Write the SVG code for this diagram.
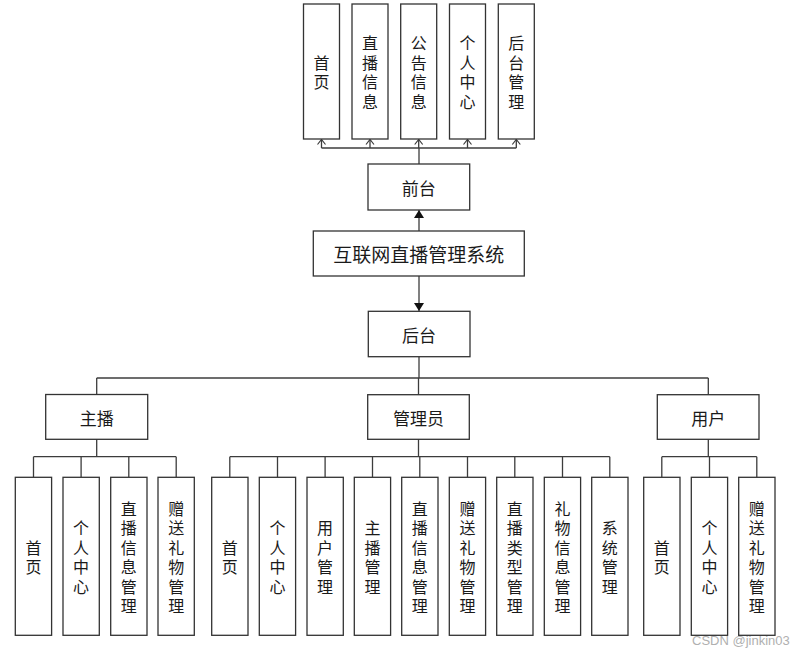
<svg xmlns="http://www.w3.org/2000/svg" width="806" height="657" viewBox="0 0 806 657">
<style>
.box{fill:#fff;stroke:#333;stroke-width:1.3}
.t{font-family:"Noto Sans CJK SC","Liberation Sans",sans-serif;fill:#1a1a1a;text-anchor:middle;dominant-baseline:central}
.s{font-size:16px}
.m{font-size:17px}
.l{font-size:19px}
.c{fill:none;stroke:#3c3c3c;stroke-width:1.3}
.wm{font-family:"Liberation Sans",Arial,sans-serif;font-size:13px;fill:#b0b0b0}
</style>
<defs>
<marker id="fa" markerUnits="userSpaceOnUse" markerWidth="8" markerHeight="10" viewBox="0 0 8 10" refX="8" refY="5" orient="auto">
<path d="M0,0 L8,5 L0,10 z" fill="#111"/>
</marker>
<marker id="oa" markerUnits="userSpaceOnUse" markerWidth="8" markerHeight="10" viewBox="-1 -1 8 10" refX="5" refY="4" orient="auto" overflow="visible">
<path d="M0,0 L5,4 L0,8" fill="none" stroke="#3c3c3c" stroke-width="1.2"/>
</marker>
</defs>

<g id="connectors">
<path class="c" d="M419,164 V148"/>
<path class="c" d="M321.5,148 H516.3"/>
<path class="c" d="M321.5,148 V139.5" marker-end="url(#oa)"/>
<path class="c" d="M370,148 V139.5" marker-end="url(#oa)"/>
<path class="c" d="M418.7,148 V139.5" marker-end="url(#oa)"/>
<path class="c" d="M467.5,148 V139.5" marker-end="url(#oa)"/>
<path class="c" d="M516.3,148 V139.5" marker-end="url(#oa)"/>
<path class="c" d="M419,231 V210" marker-end="url(#fa)"/>
<path class="c" d="M419,276 V311" marker-end="url(#fa)"/>
<path class="c" d="M419,357 V378"/>
<path class="c" d="M96.7,378 H708.3"/>
<path class="c" d="M96.7,378 V394.5"/>
<path class="c" d="M418.5,378 V394.7"/>
<path class="c" d="M708.3,378 V394.7"/>
<path class="c" d="M96.7,439.3 V456.7 M33.5,456.7 H176.2 M33.5,456.7 V477.3 M81.1,456.7 V477.3 M128.8,456.7 V477.3 M176.2,456.7 V477.3"/>
<path class="c" d="M418.5,439.3 V456.7 M229.8,456.7 H609.8 M229.8,456.7 V477.3 M277.5,456.7 V477.3 M325.1,456.7 V477.3 M372.5,456.7 V477.3 M419.8,456.7 V477.3 M467.5,456.7 V477.3 M514.8,456.7 V477.3 M562.5,456.7 V477.3 M609.8,456.7 V477.3"/>
<path class="c" d="M708.3,439.3 V456.7 M661.8,456.7 H756.8 M661.8,456.7 V477.3 M709.5,456.7 V477.3 M756.8,456.7 V477.3"/>
</g>

<g id="n_home_top"><rect class="box" x="303.5" y="4" width="36" height="135"/><text class="t s" x="321.5"><tspan x="321.5" y="61.75">首</tspan><tspan x="321.5" y="81.25">页</tspan></text></g>
<g id="n_live_top"><rect class="box" x="352" y="4" width="36" height="135"/><text class="t s"><tspan x="370" y="42.25">直</tspan><tspan x="370" y="61.75">播</tspan><tspan x="370" y="81.25">信</tspan><tspan x="370" y="100.75">息</tspan></text></g>
<g id="n_notice_top"><rect class="box" x="400.7" y="4" width="36" height="135"/><text class="t s"><tspan x="418.7" y="42.25">公</tspan><tspan x="418.7" y="61.75">告</tspan><tspan x="418.7" y="81.25">信</tspan><tspan x="418.7" y="100.75">息</tspan></text></g>
<g id="n_personal_top"><rect class="box" x="449.5" y="4" width="36" height="135"/><text class="t s"><tspan x="467.5" y="42.25">个</tspan><tspan x="467.5" y="61.75">人</tspan><tspan x="467.5" y="81.25">中</tspan><tspan x="467.5" y="100.75">心</tspan></text></g>
<g id="n_admin_top"><rect class="box" x="498.3" y="4" width="36" height="135"/><text class="t s"><tspan x="516.3" y="42.25">后</tspan><tspan x="516.3" y="61.75">台</tspan><tspan x="516.3" y="81.25">管</tspan><tspan x="516.3" y="100.75">理</tspan></text></g>

<g id="n_front"><rect class="box" x="368" y="164" width="101.7" height="46"/><text class="t m" x="418.8" y="187">前台</text></g>
<g id="n_system"><rect class="box" x="313.3" y="231" width="211" height="45"/><text class="t l" x="418.8" y="253.5">互联网直播管理系统</text></g>
<g id="n_back"><rect class="box" x="368.3" y="311.3" width="101.7" height="45.4"/><text class="t m" x="419.1" y="334">后台</text></g>

<g id="n_anchor"><rect class="box" x="45.7" y="394.5" width="102" height="44.8"/><text class="t m" x="96.7" y="417">主播</text></g>
<g id="n_manager"><rect class="box" x="367.7" y="394.7" width="101.6" height="44.6"/><text class="t m" x="418.5" y="417">管理员</text></g>
<g id="n_user"><rect class="box" x="657.3" y="394.7" width="101.7" height="44.6"/><text class="t m" x="708.2" y="417">用户</text></g>

<g id="n_a_home"><rect class="box" x="15.3" y="477.3" width="36.3" height="158"/><text class="t s"><tspan x="33.5" y="546.55">首</tspan><tspan x="33.5" y="566.05">页</tspan></text></g>
<g id="n_a_personal"><rect class="box" x="63" y="477.3" width="36.3" height="158"/><text class="t s"><tspan x="81.1" y="527.05">个</tspan><tspan x="81.1" y="546.55">人</tspan><tspan x="81.1" y="566.05">中</tspan><tspan x="81.1" y="585.55">心</tspan></text></g>
<g id="n_a_live"><rect class="box" x="110.7" y="477.3" width="36.3" height="158"/><text class="t s"><tspan x="128.8" y="507.55">直</tspan><tspan x="128.8" y="527.05">播</tspan><tspan x="128.8" y="546.55">信</tspan><tspan x="128.8" y="566.05">息</tspan><tspan x="128.8" y="585.55">管</tspan><tspan x="128.8" y="605.05">理</tspan></text></g>
<g id="n_a_gift"><rect class="box" x="158" y="477.3" width="36.3" height="158"/><text class="t s"><tspan x="176.2" y="507.55">赠</tspan><tspan x="176.2" y="527.05">送</tspan><tspan x="176.2" y="546.55">礼</tspan><tspan x="176.2" y="566.05">物</tspan><tspan x="176.2" y="585.55">管</tspan><tspan x="176.2" y="605.05">理</tspan></text></g>

<g id="n_m_home"><rect class="box" x="211.7" y="477.3" width="36.3" height="158"/><text class="t s"><tspan x="229.8" y="546.55">首</tspan><tspan x="229.8" y="566.05">页</tspan></text></g>
<g id="n_m_personal"><rect class="box" x="259.3" y="477.3" width="36.3" height="158"/><text class="t s"><tspan x="277.5" y="527.05">个</tspan><tspan x="277.5" y="546.55">人</tspan><tspan x="277.5" y="566.05">中</tspan><tspan x="277.5" y="585.55">心</tspan></text></g>
<g id="n_m_user"><rect class="box" x="307" y="477.3" width="36.3" height="158"/><text class="t s"><tspan x="325.1" y="527.05">用</tspan><tspan x="325.1" y="546.55">户</tspan><tspan x="325.1" y="566.05">管</tspan><tspan x="325.1" y="585.55">理</tspan></text></g>
<g id="n_m_anchor"><rect class="box" x="354.3" y="477.3" width="36.3" height="158"/><text class="t s"><tspan x="372.5" y="527.05">主</tspan><tspan x="372.5" y="546.55">播</tspan><tspan x="372.5" y="566.05">管</tspan><tspan x="372.5" y="585.55">理</tspan></text></g>
<g id="n_m_live"><rect class="box" x="401.7" y="477.3" width="36.3" height="158"/><text class="t s"><tspan x="419.8" y="507.55">直</tspan><tspan x="419.8" y="527.05">播</tspan><tspan x="419.8" y="546.55">信</tspan><tspan x="419.8" y="566.05">息</tspan><tspan x="419.8" y="585.55">管</tspan><tspan x="419.8" y="605.05">理</tspan></text></g>
<g id="n_m_gift"><rect class="box" x="449.3" y="477.3" width="36.3" height="158"/><text class="t s"><tspan x="467.5" y="507.55">赠</tspan><tspan x="467.5" y="527.05">送</tspan><tspan x="467.5" y="546.55">礼</tspan><tspan x="467.5" y="566.05">物</tspan><tspan x="467.5" y="585.55">管</tspan><tspan x="467.5" y="605.05">理</tspan></text></g>
<g id="n_m_type"><rect class="box" x="496.7" y="477.3" width="36.3" height="158"/><text class="t s"><tspan x="514.8" y="507.55">直</tspan><tspan x="514.8" y="527.05">播</tspan><tspan x="514.8" y="546.55">类</tspan><tspan x="514.8" y="566.05">型</tspan><tspan x="514.8" y="585.55">管</tspan><tspan x="514.8" y="605.05">理</tspan></text></g>
<g id="n_m_giftinfo"><rect class="box" x="544.3" y="477.3" width="36.3" height="158"/><text class="t s"><tspan x="562.5" y="507.55">礼</tspan><tspan x="562.5" y="527.05">物</tspan><tspan x="562.5" y="546.55">信</tspan><tspan x="562.5" y="566.05">息</tspan><tspan x="562.5" y="585.55">管</tspan><tspan x="562.5" y="605.05">理</tspan></text></g>
<g id="n_m_system"><rect class="box" x="591.7" y="477.3" width="36.3" height="158"/><text class="t s"><tspan x="609.8" y="527.05">系</tspan><tspan x="609.8" y="546.55">统</tspan><tspan x="609.8" y="566.05">管</tspan><tspan x="609.8" y="585.55">理</tspan></text></g>

<g id="n_u_home"><rect class="box" x="643.7" y="477.3" width="36.3" height="158"/><text class="t s"><tspan x="661.8" y="546.55">首</tspan><tspan x="661.8" y="566.05">页</tspan></text></g>
<g id="n_u_personal"><rect class="box" x="691.3" y="477.3" width="36.3" height="158"/><text class="t s"><tspan x="709.5" y="527.05">个</tspan><tspan x="709.5" y="546.55">人</tspan><tspan x="709.5" y="566.05">中</tspan><tspan x="709.5" y="585.55">心</tspan></text></g>
<g id="n_u_gift"><rect class="box" x="738.7" y="477.3" width="36.3" height="158"/><text class="t s"><tspan x="756.8" y="507.55">赠</tspan><tspan x="756.8" y="527.05">送</tspan><tspan x="756.8" y="546.55">礼</tspan><tspan x="756.8" y="566.05">物</tspan><tspan x="756.8" y="585.55">管</tspan><tspan x="756.8" y="605.05">理</tspan></text></g>

<text class="wm" x="692" y="645">CSDN @jinkin03</text>
</svg>
